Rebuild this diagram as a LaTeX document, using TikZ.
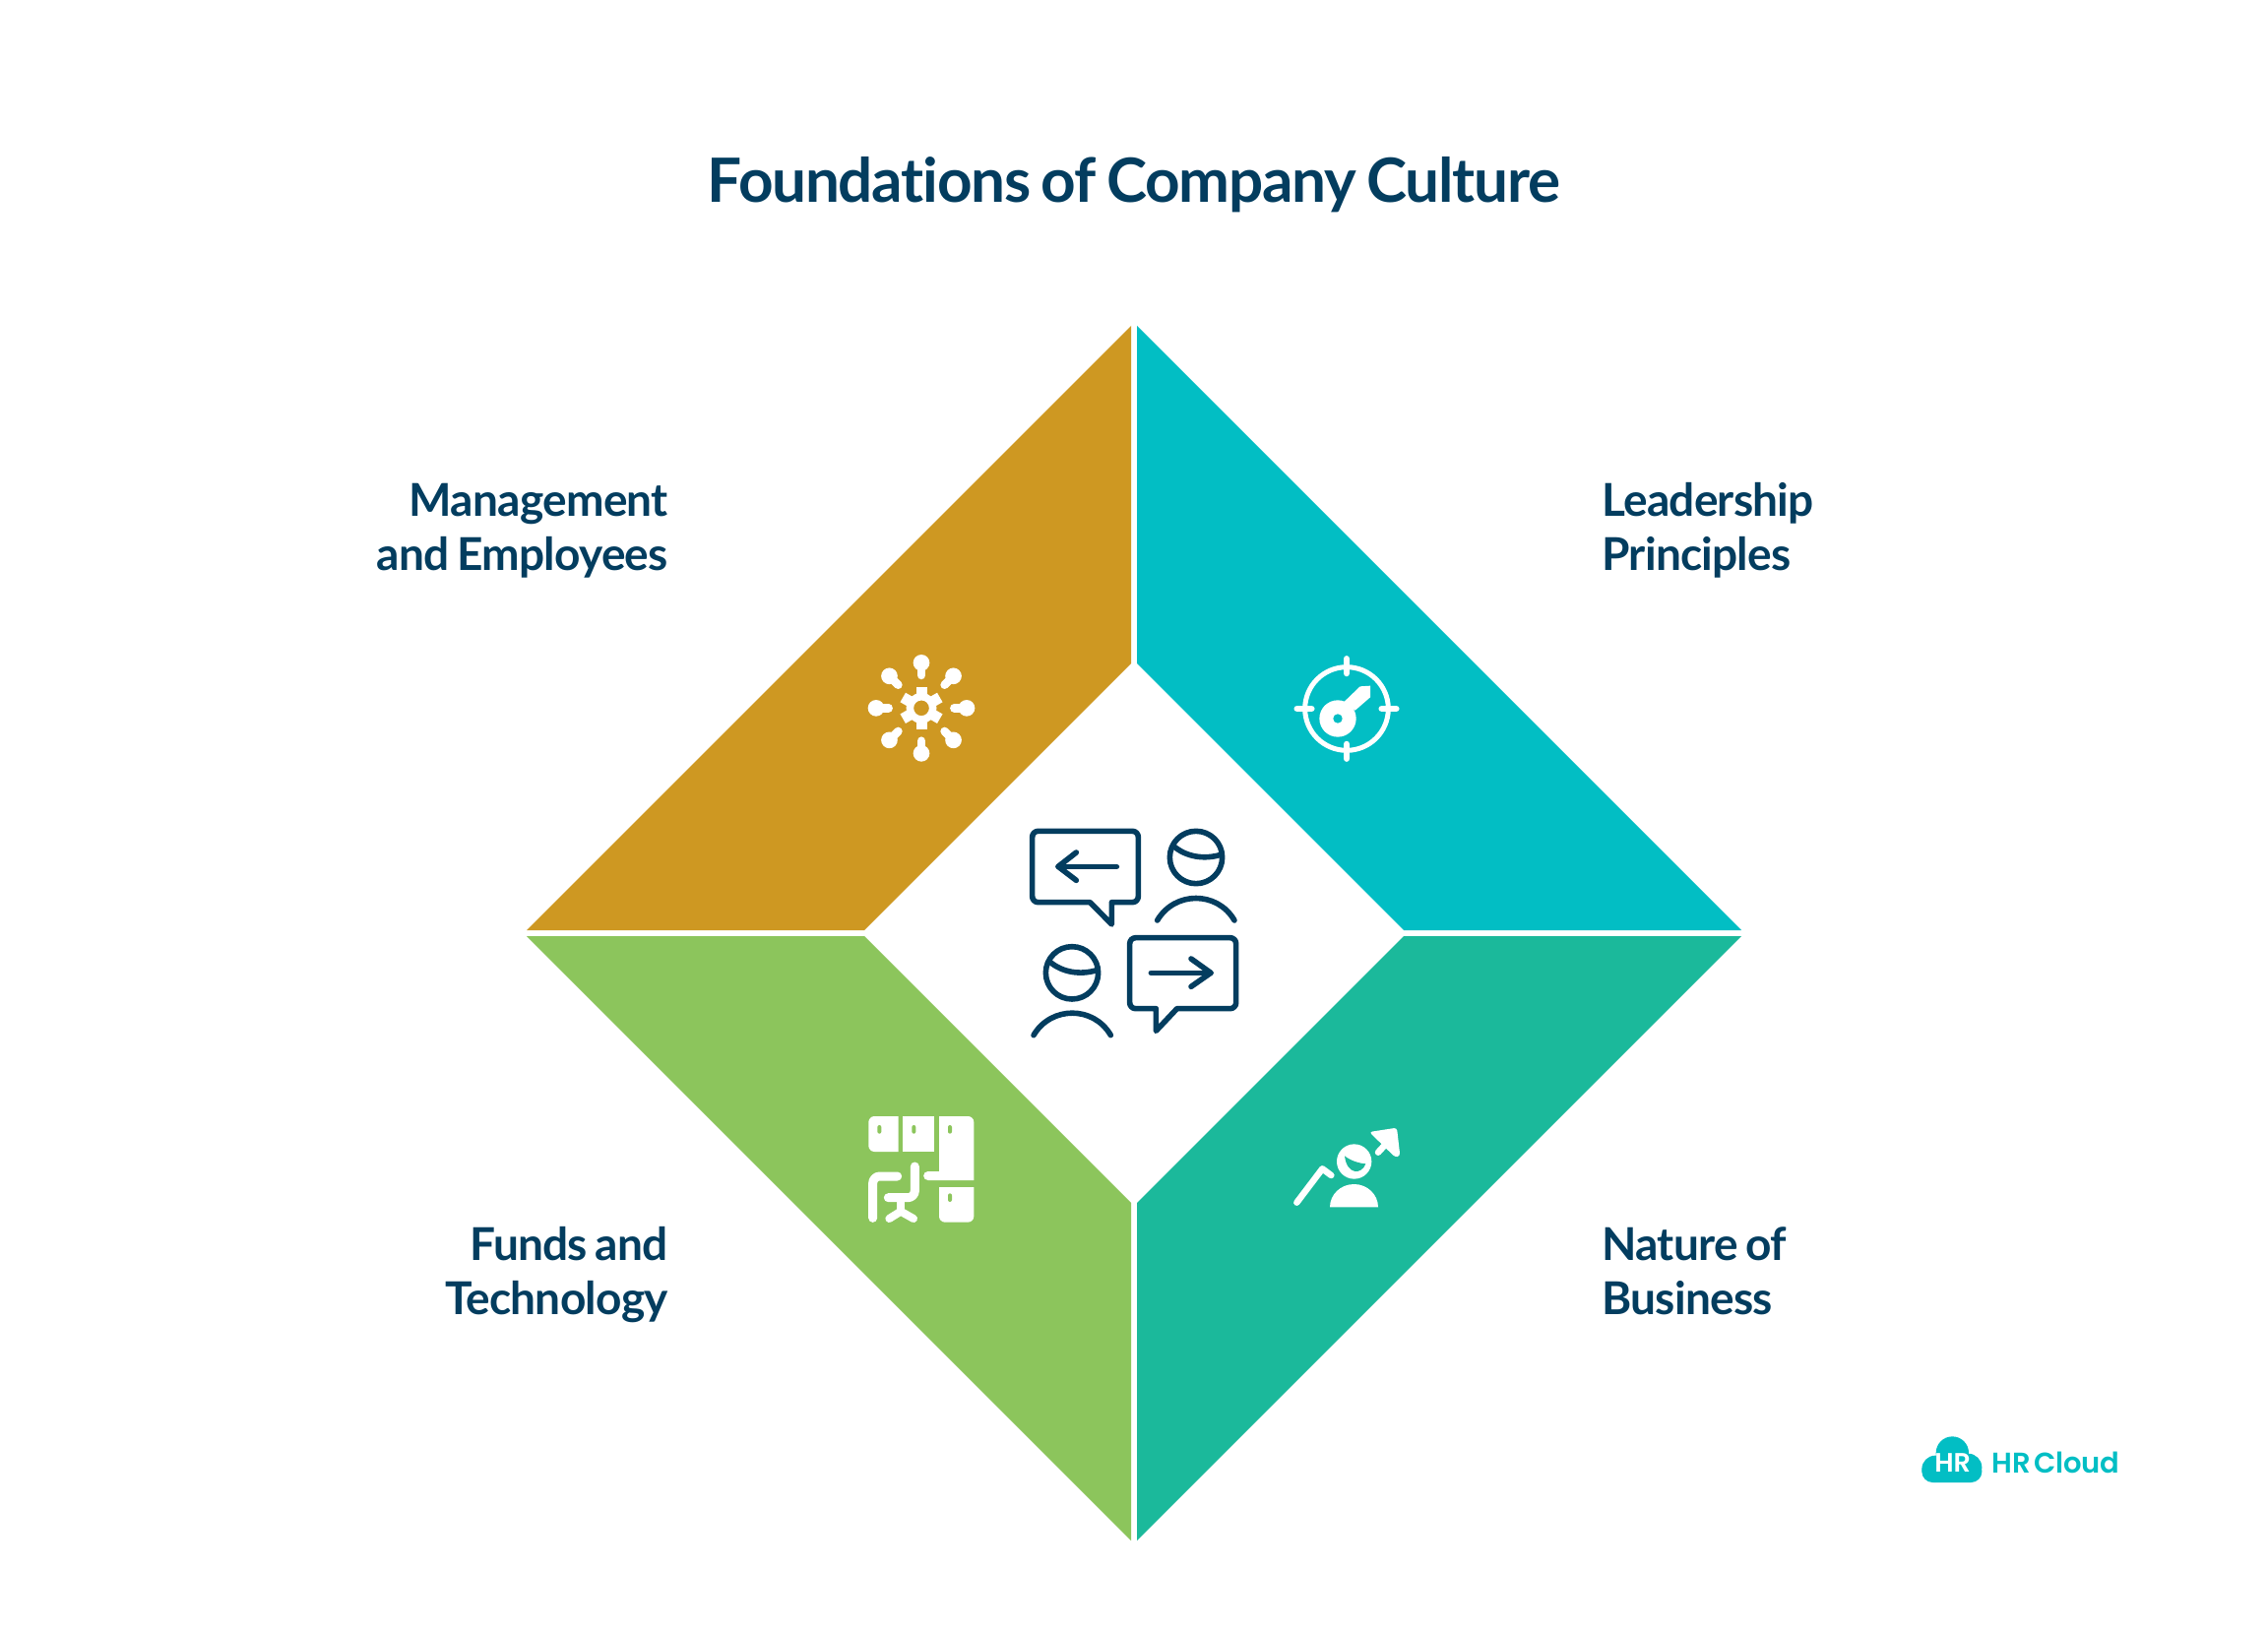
\documentclass[tikz,border=0pt]{standalone}
\usepackage{fontspec}
\setmainfont{Lato}
\newfontfamily\pop[WordSpace=0.6,LetterSpace=-1]{Poppins SemiBold}
\newfontfamily\latot[LetterSpace=-2.0,WordSpace=0.75,Ligatures=NoCommon]{Lato}
\newfontfamily\latol[LetterSpace=-1.6,WordSpace=0.75,Ligatures=NoCommon]{Lato}
\definecolor{gold}{HTML}{CE9822}
\definecolor{cyanq}{HTML}{02BEC4}
\definecolor{grn}{HTML}{8CC55C}
\definecolor{sea}{HTML}{1BB99B}
\definecolor{navy}{HTML}{033D5F}
\tikzset{
  petal/.style={draw=none},
  wline/.style={draw=white,line cap=round,line join=round,fill=none},
  nline/.style={draw=navy,line width=5.6pt,line cap=round,line join=round,fill=none},
  titletext/.style={inner sep=0pt,text=navy,font=\latot\fontsize{62}{62}\selectfont\bfseries},
  lab/.style={inner sep=0pt,text=navy,font=\latol\fontsize{46}{55}\selectfont\bfseries},
}
\begin{document}
\begin{tikzpicture}[x=1pt,y=-1pt]
\useasboundingbox (0,0) rectangle (2304,1661);
\fill[white] (0,0) rectangle (2304,1661);
% petals
\fill[gold,petal] (535,945) -- (878,945) -- (1149,674) -- (1149,331) -- cycle;
\fill[cyanq,petal] (1769,945) -- (1426,945) -- (1155,674) -- (1155,331) -- cycle;
\fill[grn,petal] (535,951) -- (878,951) -- (1149,1222) -- (1149,1565) -- cycle;
\fill[sea,petal] (1769,951) -- (1426,951) -- (1155,1222) -- (1155,1565) -- cycle;
% title and labels
\node[titletext,anchor=base] (title) at (1152,206) {Foundations of Company Culture};
\node[lab,align=right,anchor=base east] (lm) at (679,579) {Management\\and Employees};
\node[lab,align=left,anchor=base west] (ll) at (1627,579) {Leadership\\Principles};
\node[lab,align=right,anchor=base east] (lf) at (679,1335) {Funds and\\Technology};
\node[lab,align=left,anchor=base west] (ln) at (1627,1335) {Nature of\\Business};
% gear and bulbs
\begin{scope}[shift={(860,640)},x=.33333pt,y=-.33333pt]
\begin{scope}[shift={(228,238)}]
\foreach \a in {0,45,...,315}{
  \begin{scope}[rotate=\a]
    \fill[white] (0,-138) circle[radius=25];
    \draw[wline,line width=8.5pt] (0,-138) -- (0,-100);
  \end{scope}}
\draw[white,line width=7.5pt,fill=none] (0,0) circle[radius=35];
\foreach \a in {30,90,...,330}
  \draw[white,line width=11pt] (\a:40) -- (\a:65);
\end{scope}
\end{scope}
% compass key
\begin{scope}[shift={(1300,650)},x=.33333pt,y=-.33333pt]
\draw[white,line width=5pt] (204,210) circle[radius=127];
\draw[wline,line width=6.5pt] (204,58) -- (204,102);
\draw[wline,line width=6.5pt] (204,318) -- (204,362);
\draw[wline,line width=6.5pt] (53,210) -- (97,210);
\draw[wline,line width=6.5pt] (311,210) -- (355,210);
\fill[white] (177,240) circle[radius=56];
\fill[white] (195,190) -- (245,142) -- (276,140) -- (276,175) -- (230,215) -- cycle;
\fill[cyanq] (177,240) circle[radius=14];
\end{scope}
% people
\begin{scope}[shift={(1030,830)},x=.33333pt,y=-.33333pt]
\draw[nline] (232,260) -- (298,327) -- (298,260) [rounded corners=6pt] -- (379,260) -- (379,43) -- (56,43) -- (56,260) [sharp corners] -- cycle;
\draw[nline] (313,151) -- (135,151);
\draw[nline] (190,108) -- (135,151) -- (190,193);
\draw[nline] (555,123) circle[radius=80];
\draw[nline] (486,88) .. controls (525,122) and (580,130) .. (630,115);
\draw[nline] (437,315) .. controls (490,225) and (620,225) .. (672,315);
\draw[nline] (177,475) circle[radius=80];
\draw[nline] (108,440) .. controls (147,474) and (202,482) .. (252,467);
\draw[nline] (60,665) .. controls (113,575) and (243,575) .. (295,665);
\draw[nline] (497,584) -- (433,652) -- (433,584) [rounded corners=6pt] -- (353,584) -- (353,368) -- (677,368) -- (677,584) [sharp corners] -- cycle;
\draw[nline] (418,475) -- (600,475);
\draw[nline] (540,432) -- (600,475) -- (540,517);
\end{scope}
% cabinets and chair
\begin{scope}[shift={(870,1120)},x=.33333pt,y=-.33333pt]
\fill[white] (128,42) [rounded corners=6pt] -- (37,42) -- (37,150) [sharp corners] -- (128,150) -- cycle;
\fill[white] (141,42) rectangle (238,150);
\fill[white] (252,42) [rounded corners=6pt] -- (358,42) [sharp corners] -- (358,237) -- (218,237) arc[start angle=90,end angle=270,radius=13.5] -- (252,210) -- cycle;
\fill[white] (252,258) -- (358,258) [rounded corners=6pt] -- (358,365) -- (252,365) [sharp corners] -- cycle;
\foreach \p in {(70,82),(175,82),(285,82),(285,290)}
  \fill[grn,rounded corners=2pt] \p ++(-6,-13) rectangle ++(12,26);
\draw[wline,line width=9pt] (50,352) [rounded corners=7pt] -- (50,225) [sharp corners] -- (125,225);
\draw[wline,line width=9pt] (178,195) [rounded corners=7pt] -- (178,290) [sharp corners] -- (97,290);
\draw[wline,line width=8pt] (135,295) -- (135,330);
\draw[wline,line width=8pt] (100,354) -- (135,332) -- (174,354);
\end{scope}
% growth
\begin{scope}[shift={(1300,1130)},x=.33333pt,y=-.33333pt]
\draw[wline,line width=6.5pt] (52,275) -- (130,172) -- (157,192);
\fill[white] (227,150) circle[radius=53];
\fill[sea] (198,133) .. controls (215,147) and (240,155) .. (262,157) .. controls (250,190) and (205,192) .. (198,133) -- cycle;
\fill[white] (153,289) arc[start angle=180,end angle=360,x radius=73.5,y radius=70] -- cycle;
\fill[white,rounded corners=3pt] (273,60) -- (357,47) -- (367,133) -- (352,137) -- cycle;
\draw[wline,line width=6.5pt] (300,122) -- (325,95);
\end{scope}
% logo
\begin{scope}[shift={(1940,1450)},x=.33333pt,y=-.33333pt]
\fill[cyanq] (130,78) circle[radius=50];
\fill[cyanq] (78,127) circle[radius=41];
\fill[cyanq] (178,122) circle[radius=42];
\fill[cyanq,rounded corners=11pt] (37,100) rectangle (220,168);
\node[inner sep=0pt,text=white,font=\pop\fontsize{27}{27}\selectfont,anchor=base] (hr) at (131,135) {HR};
\node[inner sep=0pt,text=cyanq,font=\pop\fontsize{29}{29}\selectfont,anchor=base west] (hrc) at (250,140) {HR Cloud};
\node[inner sep=0pt,text=cyanq,font=\pop\fontsize{6}{6}\selectfont] (reg) at (628,85) {®};
\end{scope}
\end{tikzpicture}
\end{document}
